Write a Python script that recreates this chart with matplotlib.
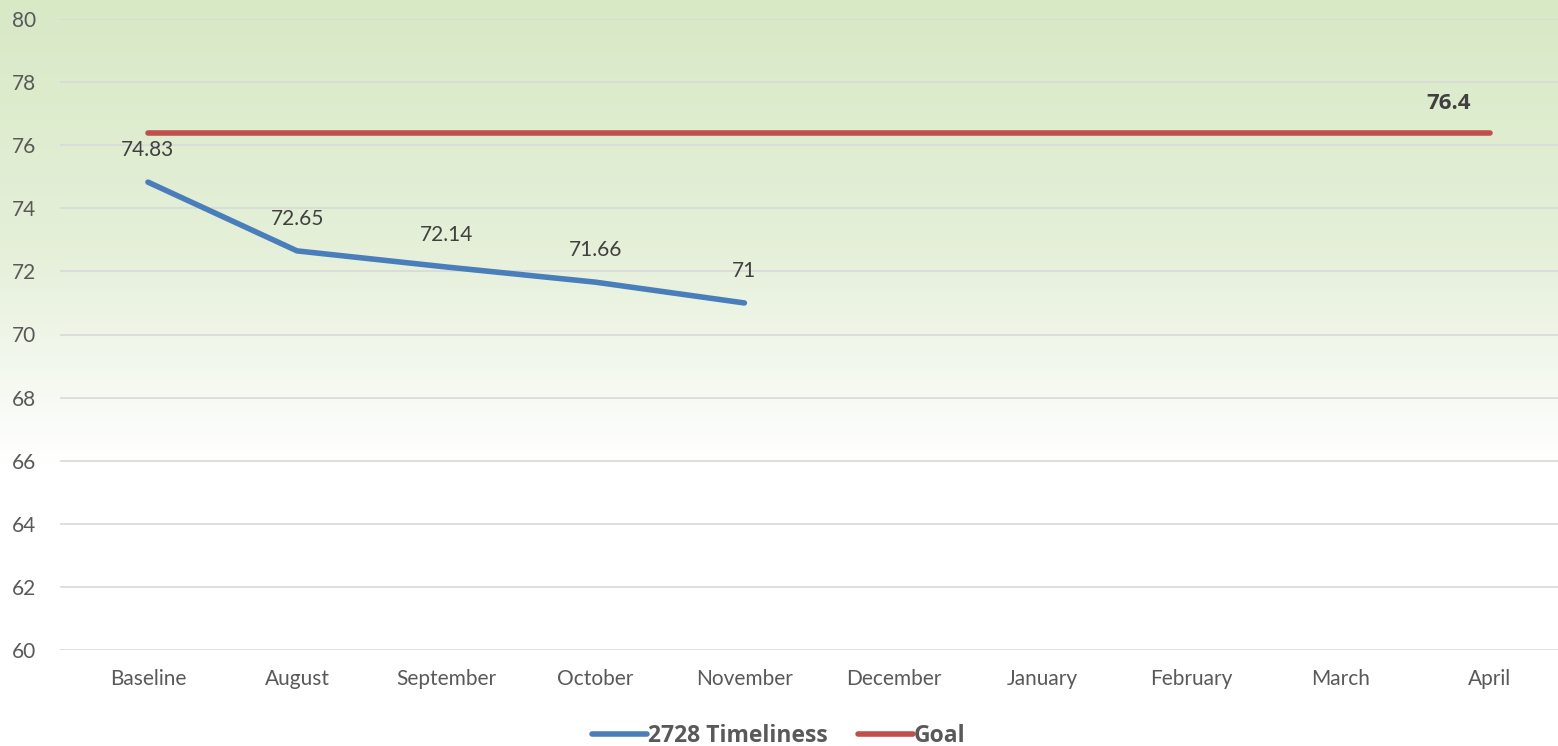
import matplotlib.pyplot as plt
import numpy as np
from matplotlib.colors import LinearSegmentedColormap

plt.rcParams["font.family"] = ["Lato", "DejaVu Sans"]

months = ["Baseline", "August", "September", "October", "November",
          "December", "January", "February", "March", "April"]
timeliness = [74.83, 72.65, 72.14, 71.66, 71.0]
timeliness_labels = ["74.83", "72.65", "72.14", "71.66", "71"]
goal = [76.4] * len(months)

fig = plt.figure(figsize=(15.58, 7.46), dpi=100)

# background gradient: green at the top, fading to white around 66
bg = fig.add_axes([0, 0, 1, 1], zorder=-1)
grad = np.linspace(0, 1, 746).reshape(-1, 1)
cmap = LinearSegmentedColormap.from_list(
    "bg", [(0.0, "#d8e9c6"), (0.35, "#e6f0da"), (0.62, "#ffffff"), (1.0, "#ffffff")])
bg.imshow(grad, aspect="auto", cmap=cmap, extent=[0, 1, 0, 1], origin="upper")
bg.axis("off")

ax = fig.add_axes([60 / 1558, 96 / 746, 1498 / 1558, 631 / 746])
ax.patch.set_alpha(0)
x = np.arange(len(months))

ax.plot(x[:len(timeliness)], timeliness, color="#4a7ebb", lw=4.0,
        solid_capstyle="round", label="2728 Timeliness")
ax.plot(x, goal, color="#c0504d", lw=4.0, solid_capstyle="round", label="Goal")

for xi, v, lab in zip(x, timeliness, timeliness_labels):
    ax.annotate(lab, (xi, v), xytext=(0, 23), textcoords="offset points",
                ha="center", va="center", fontsize=15, color="#404040")
ax.annotate(f"{goal[-1]:g}", (x[-1], goal[-1]), xytext=(-30, 21),
            textcoords="offset points", ha="center", va="center",
            fontsize=16, fontweight="bold", color="#404040",
            family=["Open Sans", "DejaVu Sans"])

ax.set_xlim(-0.59, 9.457)
ax.set_ylim(60, 80)
ax.set_yticks(range(60, 81, 2))
ax.set_xticks(x)
ax.set_xticklabels(months)
ax.tick_params(axis="both", length=0, labelsize=15, labelcolor="#595959")
ax.tick_params(axis="x", pad=14)
ax.tick_params(axis="y", pad=17)
ax.grid(axis="y", color="#d9d9d9", lw=1.2)
for s in ax.spines.values():
    s.set_visible(False)

leg = fig.legend(loc="lower center", ncol=2, frameon=False,
                 bbox_to_anchor=(0.5, -0.03), handlelength=2.4,
                 handletextpad=0.05, columnspacing=1.3,
                 prop={"size": 16.5, "weight": "bold",
                       "family": ["Open Sans", "DejaVu Sans"]})
for t in leg.get_texts():
    t.set_color("#595959")

fig.savefig("out.png", dpi=100)
